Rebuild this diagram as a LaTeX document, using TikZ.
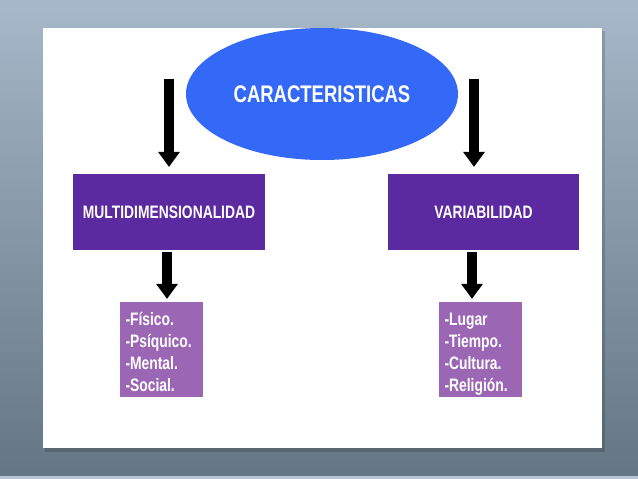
\documentclass[tikz,border=0pt]{standalone}
\usepackage{fontspec}
\setmainfont{Liberation Sans}[FakeStretch=0.77]
\usetikzlibrary{shapes.geometric,arrows.meta}
\definecolor{fondhaut}{RGB}{166,184,201}
\definecolor{fondbas}{RGB}{100,117,131}
\definecolor{bleutitre}{RGB}{52,104,246}
\definecolor{violetfonce}{RGB}{91,41,160}
\definecolor{violetclair}{RGB}{155,103,181}
% Espaces fixes en haut et en bas des listes :
\newcommand{\hautliste}{\rule{0pt}{23pt}}
\newcommand{\basliste}{\rule[-5pt]{0pt}{5pt}}

\begin{document}
\begin{tikzpicture}[x=1pt,y=-1pt,
    titre/.style={ellipse, fill=bleutitre, text=white, minimum width=272pt, minimum height=132pt,
      font=\bfseries\fontsize{24}{28}\selectfont},
    categorie/.style={rectangle, fill=violetfonce, text=white, minimum width=192pt, minimum height=76pt,
      font=\bfseries\fontsize{18}{22}\selectfont},
    liste/.style={rectangle, fill=violetclair, text=white, text width=72pt, inner xsep=5.5pt, inner ysep=0pt,
      minimum height=95pt, align=left, font=\bfseries\fontsize{18}{22}\selectfont},
    fleche/.style={draw=black, line width=10pt, -{Triangle[width=22pt,length=15pt,line width=0pt]}}]
        % On fixe le cadre de l'image et le fond :
        \useasboundingbox (0,0) rectangle (638,479);
        \fill[top color=fondhaut, bottom color=fondbas] (0,0) rectangle (638,479);
        \fill[fondhaut!80!white] (0,476) rectangle (638,479);
        % Le panneau blanc avec une légère ombre :
        \fill[black, opacity=0.15] (45,31) rectangle (605,452);
        \fill[white] (43,28) rectangle (602,448);

        % Le titre et les deux catégories :
        \node[titre] (carac) at (322,94) {CARACTERISTICAS};
        \node[categorie] (multi) at (169,212) {MULTIDIMENSIONALIDAD};
        \node[categorie, minimum width=191pt] (vari) at (483.5,212) {VARIABILIDAD};

        % Les listes sous chaque catégorie :
        \node[liste] (aspects) at (161.5,349.5)
          {\hautliste-Físico.\\-Psíquico.\\-Mental.\\-Social.\basliste};
        \node[liste] (facteurs) at (480.5,349.5)
          {\hautliste-Lugar\\-Tiempo.\\-Cultura.\\-Religión.\basliste};

        % Les flèches :
        \coordinate (departG) at (169,79);
        \coordinate (departD) at (474,79);
        \coordinate (descG) at (167,250);
        \coordinate (descD) at (472,250);
        \draw[fleche, shorten >=7pt] (departG) -- (departG |- multi.north);
        \draw[fleche, shorten >=7pt] (departD) -- (departD |- vari.north);
        \draw[fleche, shorten <=2pt, shorten >=3pt] (descG) -- (descG |- aspects.north);
        \draw[fleche, shorten <=2pt, shorten >=3pt] (descD) -- (descD |- facteurs.north);
\end{tikzpicture}
\end{document}
